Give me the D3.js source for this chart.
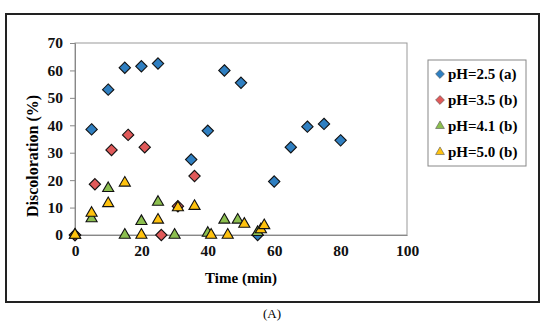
<!DOCTYPE html>
<html>
<head>
<meta charset="utf-8">
<script src="https://cdn.jsdelivr.net/npm/d3@7"></script>
<style>
  body { margin: 0; background: #fff; }
  text { font-family: "Liberation Serif", "Times New Roman", serif; font-weight: bold; }
</style>
</head>
<body>
<div id="chart"></div>
<script>
// data
var seriesNames = ["pH=2.5 (a)", "pH=3.5 (b)", "pH=4.1 (b)", "pH=5.0 (b)"];
var seriesColors = ["#2f7fc1", "#e05a5a", "#8cbf4f", "#ffc20e"];
var seriesShapes = ["diamond", "diamond", "triangle", "triangle"];

var timeA = [0, 5, 10, 15, 20, 25, 35, 40, 45, 50, 55, 60, 65, 70, 75, 80];
var valA  = [0, 38.5, 53, 61, 61.5, 62.5, 27.5, 38, 60, 55.5, 0, 19.5, 32, 39.5, 40.5, 34.5];

var timeB = [0, 6, 11, 16, 21, 26, 31, 36];
var valB  = [0, 18.5, 31, 36.5, 32, 0, 10.5, 21.5];

var timeC = [0, 5, 10, 15, 20, 25, 30, 40, 45, 49, 55];
var valC  = [0, 6, 17, 0, 5, 12, 0, 0.7, 5.5, 5.5, 1];

var timeD = [0, 5, 10, 15, 20, 25, 31, 36, 41, 46, 51, 56, 57];
var valD  = [0, 8, 11.5, 19, 0, 5.5, 10, 10.5, 0, 0, 4, 2, 3.5];

var xTicks = [0, 20, 40, 60, 80, 100];
var yTicks = [0, 10, 20, 30, 40, 50, 60, 70];

var W = 550, H = 329;
var svg = d3.select("#chart").append("svg")
  .attr("width", W).attr("height", H);

// outer frame + caption
svg.append("rect").attr("x", 6).attr("y", 14).attr("width", 533).attr("height", 288)
  .attr("fill", "none").attr("stroke", "#222").attr("stroke-width", 2);
svg.append("text").attr("x", 272).attr("y", 318).attr("text-anchor", "middle")
  .style("font-weight", "normal").attr("font-size", 13).text("(A)");

var plotL = 75, plotR = 407, plotT = 43, plotB = 235;

var x = d3.scaleLinear().domain([0, 100]).range([plotL, plotR]);
var y = d3.scaleLinear().domain([0, 70]).range([plotB, plotT]);

// plot area border
svg.append("rect").attr("x", plotL).attr("y", plotT)
  .attr("width", plotR - plotL).attr("height", plotB - plotT)
  .attr("fill", "none").attr("stroke", "#999").attr("stroke-width", 1);

var xAxis = svg.append("g").attr("transform", "translate(0," + plotB + ")")
  .call(d3.axisBottom(x).tickValues(xTicks).tickSize(0).tickPadding(10));
var yAxis = svg.append("g").attr("transform", "translate(" + plotL + ",0)")
  .call(d3.axisLeft(y).tickValues(yTicks).tickSize(5).tickPadding(7));

[xAxis, yAxis].forEach(function(a) {
  a.selectAll("path").attr("stroke", "#888");
  a.selectAll("line").attr("stroke", "#888");
  a.selectAll("text").attr("font-size", 15.5).attr("fill", "#111")
    .attr("font-family", "Liberation Serif, serif").attr("font-weight", "bold");
});

svg.append("text").attr("x", x(50)).attr("y", 283).attr("text-anchor", "middle")
  .attr("font-size", 15).text("Time (min)");
svg.append("text").attr("transform", "translate(38,156) rotate(-90)")
  .attr("text-anchor", "middle").attr("font-size", 16).text("Discoloration (%)");

var diamond = d3.symbol().type(d3.symbolDiamond2).size(82);
var triangle = d3.symbol().type(d3.symbolTriangle2).size(88);

var allSeries = [[timeA, valA], [timeB, valB], [timeC, valC], [timeD, valD]];
allSeries.forEach(function(s, i) {
  var pts = s[0].map(function(t, k) { return { t: t, v: s[1][k] }; });
  svg.append("g").selectAll("path").data(pts).enter().append("path")
    .attr("d", seriesShapes[i] == "diamond" ? diamond() : triangle())
    .attr("transform", function(d) { return "translate(" + x(d.t) + "," + y(d.v) + ")"; })
    .attr("fill", seriesColors[i])
    .attr("stroke", "#111").attr("stroke-width", 1.1);
});

// legend
var lg = svg.append("g");
lg.append("rect").attr("x", 428).attr("y", 60).attr("width", 98).attr("height", 106)
  .attr("fill", "#fff").attr("stroke", "#888");
seriesNames.forEach(function(n, i) {
  var cy = 74 + i * 26;
  lg.append("path")
    .attr("d", seriesShapes[i] == "diamond" ? d3.symbol().type(d3.symbolDiamond2).size(50)() : d3.symbol().type(d3.symbolTriangle2).size(55)())
    .attr("transform", "translate(440," + cy + ")")
    .attr("fill", seriesColors[i]).attr("stroke", "#555").attr("stroke-width", 0.6);
  lg.append("text").attr("x", 448).attr("y", cy + 5).attr("font-size", 15).text(n);
});
</script>
</body>
</html>
